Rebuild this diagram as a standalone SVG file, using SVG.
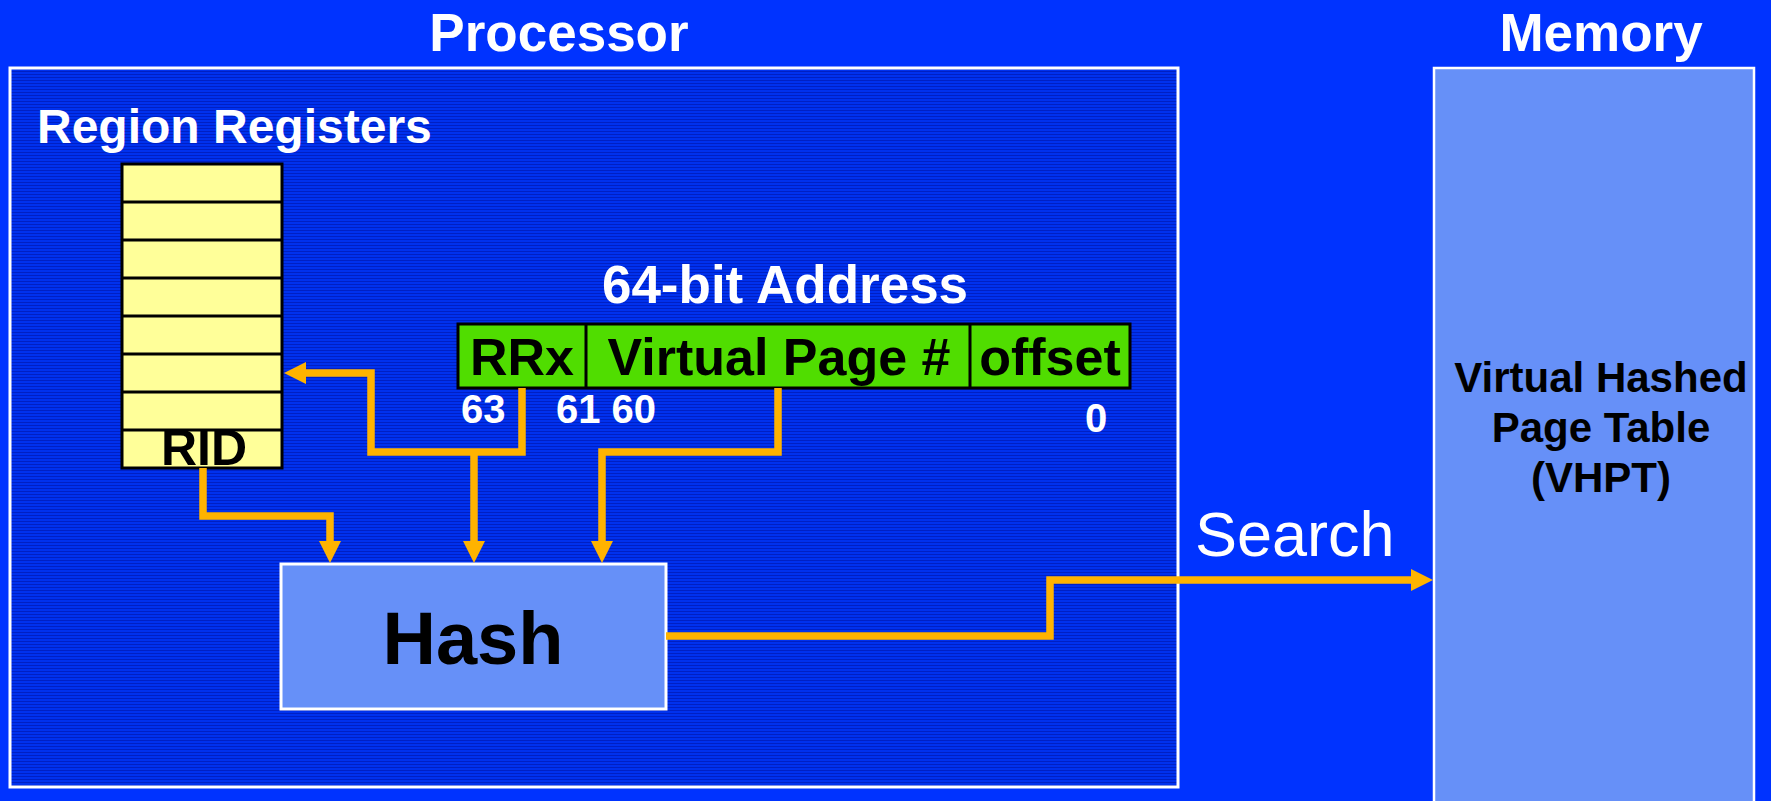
<svg xmlns="http://www.w3.org/2000/svg" width="1771" height="801" viewBox="0 0 1771 801">
<defs>
<pattern id="stripes" width="8" height="3" patternUnits="userSpaceOnUse">
<rect width="8" height="3" fill="#0031EE"/>
<rect y="2" width="8" height="1" fill="#0020C4"/>
</pattern>
<marker id="ah" viewBox="0 0 22 22" refX="0" refY="11" markerWidth="22" markerHeight="22" markerUnits="userSpaceOnUse" orient="auto">
<path d="M0,0 L22,11 L0,22 z" fill="#FFB300"/>
</marker>
<style>
.bold{font-family:"Liberation Sans",Arial,sans-serif;font-weight:bold}
.title{font-size:53px;fill:#fff;text-anchor:middle}
.field{font-size:52px;fill:#000;text-anchor:middle}
.bit{font-size:40px;fill:#fff}
.conn{fill:none;stroke:#FFB300;stroke-width:7.5;stroke-linejoin:miter}
.reg{fill:#FFFF99;stroke:#000;stroke-width:3}
</style>
</defs>
<rect width="1771" height="801" fill="#0033FF"/>
<g id="processor">
<rect x="10" y="68" width="1168" height="719" fill="url(#stripes)" stroke="#fff" stroke-width="3"/>
<text class="bold title" x="559" y="51">Processor</text>
<text class="bold" x="37" y="143" font-size="48" fill="#fff">Region Registers</text>
</g>
<g id="memory">
<rect x="1434" y="68" width="320" height="760" fill="#6690F8" stroke="#fff" stroke-width="2.5"/>
<text class="bold title" x="1601" y="51">Memory</text>
<text class="bold" font-size="42" fill="#000" text-anchor="middle"><tspan x="1601" y="392">Virtual Hashed</tspan><tspan x="1601" y="442">Page Table</tspan><tspan x="1601" y="492">(VHPT)</tspan></text>
</g>
<g id="region-registers">
<rect class="reg" x="122" y="164" width="160" height="304"/>
<path d="M122,202 H282 M122,240 H282 M122,278 H282 M122,316 H282 M122,354 H282 M122,392 H282 M122,430 H282" stroke="#000" stroke-width="3"/>
<text class="bold" x="204" y="465" font-size="50" fill="#000" text-anchor="middle">RID</text>
</g>
<g id="address">
<text class="bold title" x="785" y="303" font-size="54">64-bit Address</text>
<rect x="458" y="324" width="672" height="64" fill="#50DD00" stroke="#000" stroke-width="3"/>
<path d="M586,324 V388 M970,324 V388" stroke="#000" stroke-width="3"/>
<text class="bold field" x="522" y="375">RRx</text>
<text class="bold field" x="779" y="375" font-size="53.5">Virtual Page #</text>
<text class="bold field" x="1050" y="375">offset</text>
<text class="bold bit" x="461" y="423">63</text>
<text class="bold bit" x="556" y="423">61 60</text>
<text class="bold bit" x="1085" y="432">0</text>
</g>
<g id="hash">
<rect x="281" y="564" width="385" height="145" fill="#6690F8" stroke="#fff" stroke-width="3"/>
<text class="bold" x="473" y="664" font-size="74" fill="#000" text-anchor="middle">Hash</text>
</g>
<g id="connectors">
<path class="conn" d="M203,468 V516 H330 V541" marker-end="url(#ah)"/>
<path class="conn" d="M522,388 V452 H371 V373 H306" marker-end="url(#ah)"/>
<path class="conn" d="M474,452 V541" marker-end="url(#ah)"/>
<path class="conn" d="M778,388 V452 H602 V541" marker-end="url(#ah)"/>
<path class="conn" d="M666,636 H1050 V580 H1411" marker-end="url(#ah)"/>
<text x="1195" y="556" font-family="Liberation Sans, Arial, sans-serif" font-size="63" fill="#fff">Search</text>
</g>
</svg>
